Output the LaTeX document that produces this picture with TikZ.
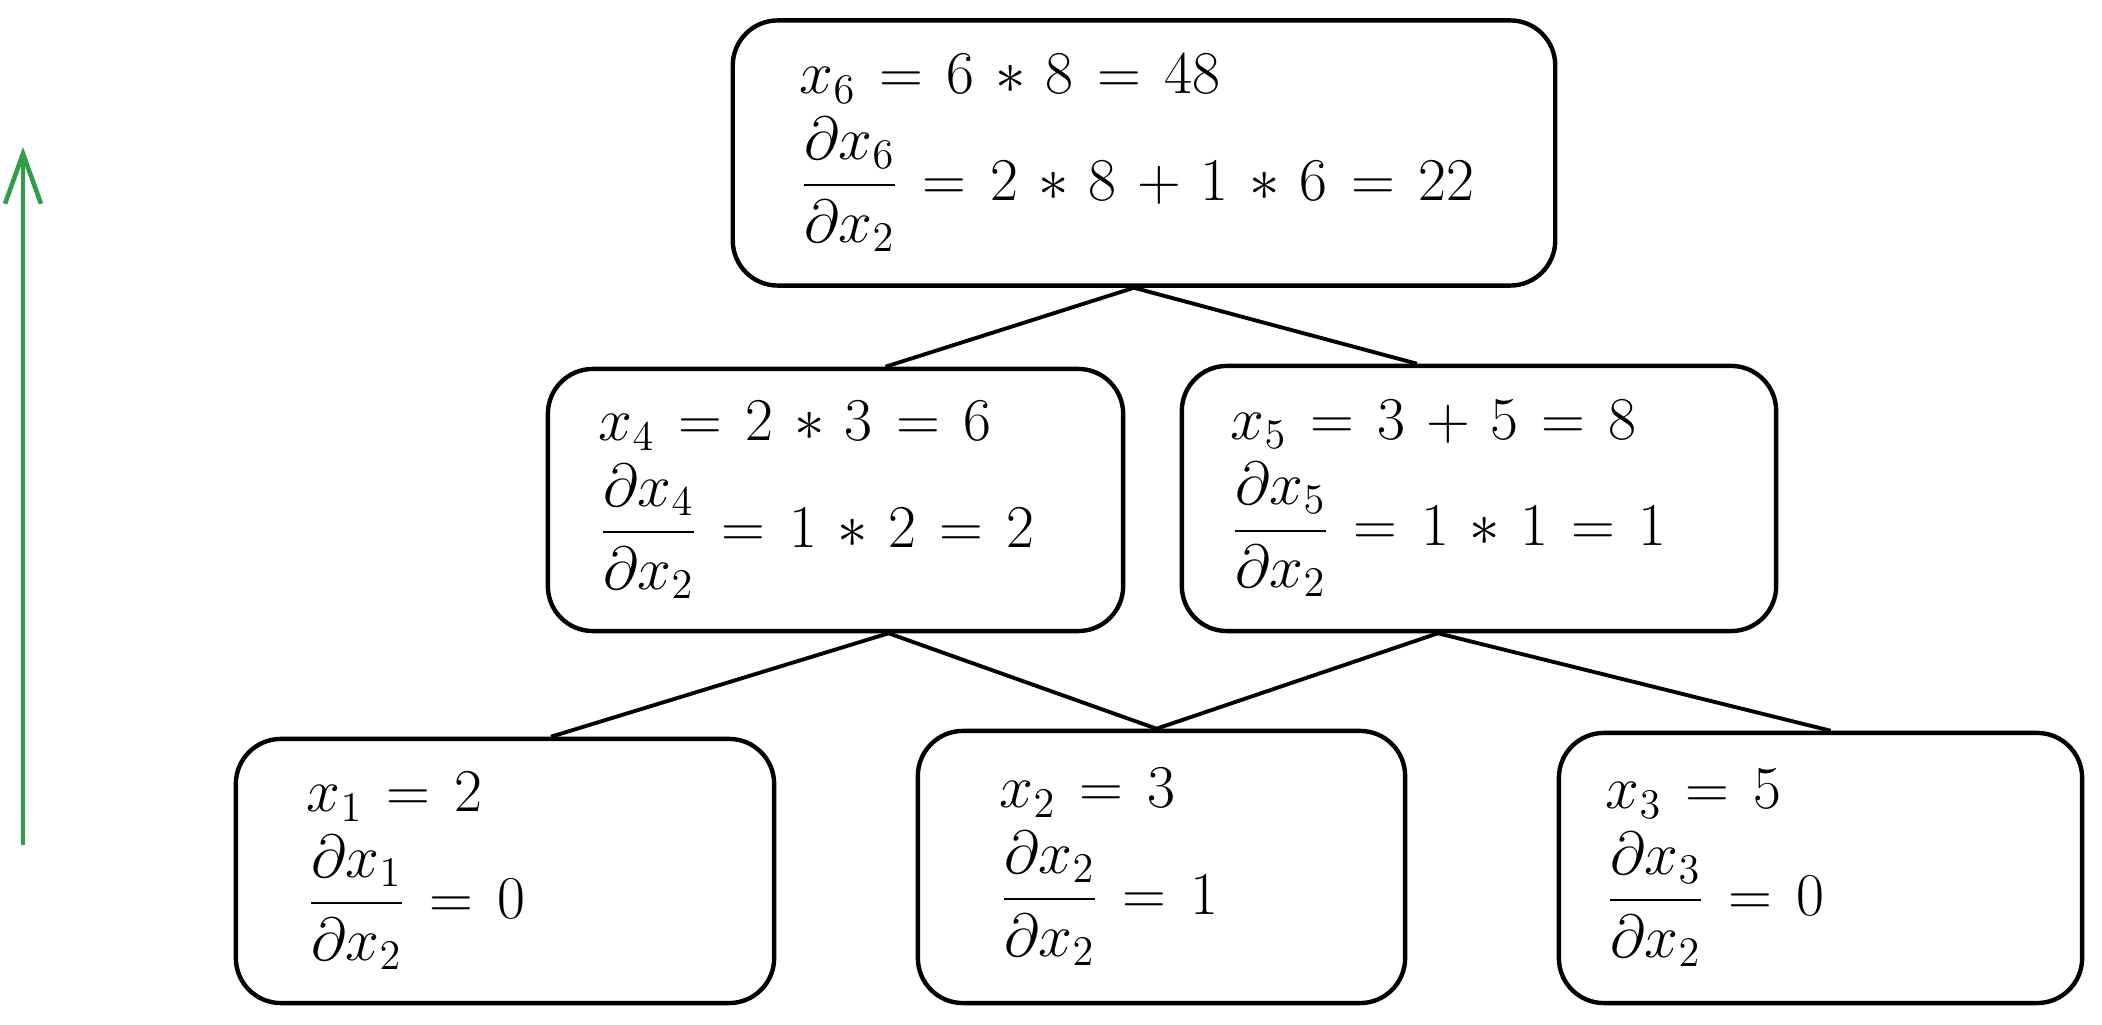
\documentclass[tikz,border=0pt]{standalone}
\usepackage{amsmath}
\usetikzlibrary{arrows.meta}
\definecolor{arrowgreen}{HTML}{2F9E44}
\medmuskip=6mu
\thickmuskip=7mu
\begin{document}
\begin{tikzpicture}[x=0.01cm, y=-0.01cm,
    box/.style={draw, line width=1.25pt, rounded corners=0.45cm, align=left,
      font=\fontsize{17}{20}\selectfont},
    edge/.style={line width=1.1pt}]
        \useasboundingbox (0,0) rectangle (2102,1025);

        % Output node
        \node[box, minimum height=2.65cm, inner xsep=0.67cm, text width=6.88cm] (x6) at (1144,153)
            {$x_6 = 6 * 8 = 48$\\[3pt]$\dfrac{\partial x_6}{\partial x_2} = 2 * 8 + 1 * 6 = 22$};

        % Intermediate nodes
        \node[box, minimum height=2.62cm, inner xsep=0.51cm, text width=4.73cm] (x4) at (835.5,500)
            {$x_4 = 2 * 3 = 6$\\[3pt]$\dfrac{\partial x_4}{\partial x_2} = 1 * 2 = 2$};
        \node[box, minimum height=2.65cm, inner xsep=0.49cm, text width=4.96cm] (x5) at (1479,498.5)
            {$x_5 = 3 + 5 = 8$\\[3pt]$\dfrac{\partial x_5}{\partial x_2} = 1 * 1 = 1$};

        % Input nodes
        \node[box, minimum height=2.64cm, inner xsep=0.71cm, text width=3.96cm] (x1) at (505,871)
            {$x_1 = 2$\\[3pt]$\dfrac{\partial x_1}{\partial x_2} = 0$};
        \node[box, minimum height=2.72cm, inner xsep=0.82cm, text width=3.23cm] (x2) at (1161.5,867)
            {$x_2 = 3$\\[3pt]$\dfrac{\partial x_2}{\partial x_2} = 1$};
        \node[box, minimum height=2.70cm, inner xsep=0.47cm, text width=4.29cm] (x3) at (1820.5,868)
            {$x_3 = 5$\\[3pt]$\dfrac{\partial x_3}{\partial x_2} = 0$};

        % Edges
        \draw[edge] ([xshift=-1mm]x6.south) -- ([xshift=5mm]x4.north);
        \draw[edge] ([xshift=-1mm]x6.south) -- ([xshift=-6.2mm]x5.north);
        \draw[edge] ([xshift=5.3mm]x4.south) -- ([xshift=4.6mm]x1.north);
        \draw[edge] ([xshift=5.3mm]x4.south) -- ([xshift=-0.5mm]x2.north);
        \draw[edge] ([xshift=-4.1mm]x5.south) -- ([xshift=-0.5mm]x2.north);
        \draw[edge] ([xshift=-4.1mm]x5.south) -- ([xshift=1mm]x3.north);

        % Direction of the backward pass
        \coordinate (gbot) at (23,845);
        \coordinate (gtop) at (23,147);
        \draw[arrowgreen, line width=1.3pt, -{Straight Barb[length=5mm, width=3.6mm]}] (gbot) -- (gtop);
    \end{tikzpicture}
\end{document}
